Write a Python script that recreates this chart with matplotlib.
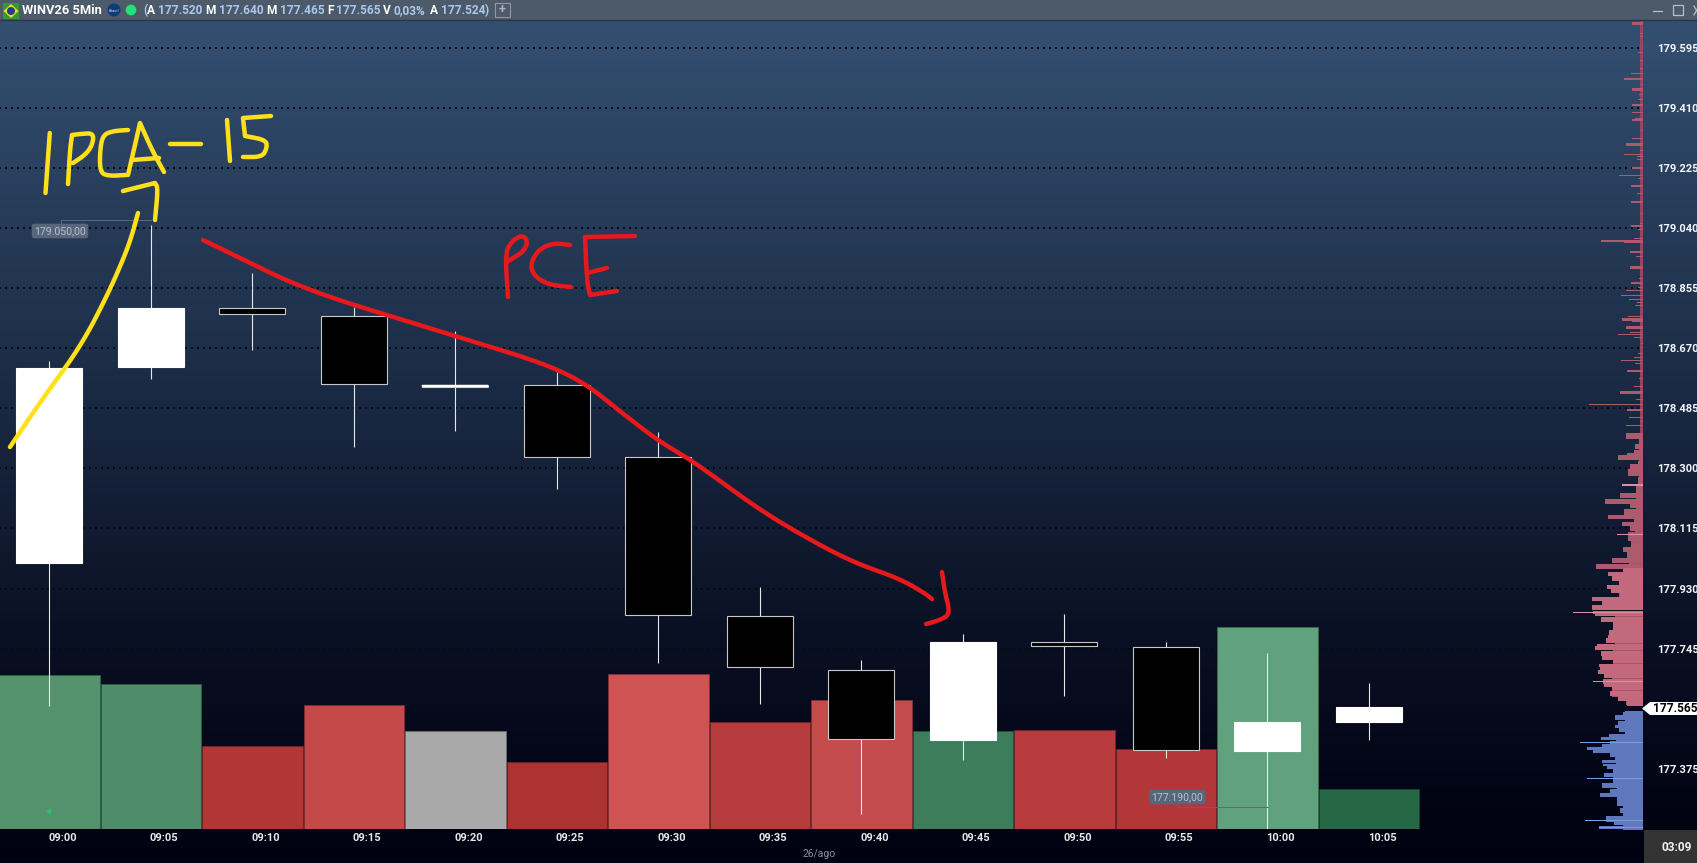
import numpy as np
import matplotlib
matplotlib.use("Agg")
import matplotlib.pyplot as plt
from matplotlib.patches import Rectangle, Polygon, Circle

W, H = 1697, 863

# ---------- data ----------
times = ["09:00","09:05","09:10","09:15","09:20","09:25","09:30","09:35","09:40","09:45","09:50","09:55","10:00","10:05"]
opens  = [178010,178612,178792,178769,178555,178557,178335,177846,177680,177464,177766,177750,177430,177520]
closes = [178610,178795,178775,178560,178550,178335,177849,177689,177467,177766,177753,177433,177519,177565]
highs  = [178630,179050,178902,178797,178723,178597,178412,177935,177710,177790,177852,177766,177732,177640]
lows   = [177570,178575,178665,178366,178415,178237,177700,177575,177236,177403,177600,177409,177190,177465]
volumes = [154,145,83,124,98,67,155,107,129,98,99,80,202,40]
vol_colors = ["#54926e","#4e8c6a","#b23636","#c44a4a","#a9a9a9","#ad3232","#cf5353",
              "#b63b3d","#c44b4b","#3d7d5b","#b83c3e","#b33638","#60a27e","#266745"]
price_ticks = [179595,179410,179225,179040,178855,178670,178485,178300,178115,177930,177745,177560,177375]
price_labels = ["179.595","179.410","179.225","179.040","178.855","178.670","178.485","178.300","178.115","177.930","177.745","","177.375"]

upper_prices = [179673,179642,179632,179618,179601,179584,179569,179558,179535,179519,179502,179483,179470,179453,179439,179422,179399,179381,179374,179343,179319,179301,179281,179270,179263,179253,179227,179204,179196,179171,179148,179123,179101,179088,179070,179058,179050,179037,179021,179010,179002,178998,178970,178954,178922,178901,178888,178875,178861,178851,178835,178822,178814,178803,178770,178762,178755,178737,178722,178715,178707,178688,178676,178657,178645,178636,178627,178602,178580,178555,178537,178516,178500,178483,178460,178447,178435]
upper_sizes  = [33,8,8,35,4,14,34,8,9,35,57,6,33,12,14,33,33,25,33,6,33,51,8,56,18,17,33,72,15,36,18,36,57,5,42,10,36,14,48,27,126,57,39,22,39,99,12,36,15,51,66,42,18,24,45,63,33,51,39,75,27,5,5,15,27,66,24,48,12,27,69,21,162,48,42,10,51]
upper_thick  = [8,3,3,2,3,3,2,3,3,2,7,3,8,3,3,8,2,3,6,3,2,9,3,2,3,3,8,5,3,7,3,5,2,3,2,3,6,3,2,3,7,3,7,3,8,2,3,6,3,2,5,2,3,3,2,8,4,8,4,5,3,3,3,3,3,2,3,7,3,3,8,3,2,6,2,3,6]

lower_prices = [178403,178385,178370,178354,178347,178337,178318,178308,178290,178267,178252,178231,178219,178202,178190,178170,178153,178144,178131,178118,178100,178088,178067,178052,178036,178019,178002,177990,177977,177964,177951,177939,177925,177913,177900,177887,177874,177859,177854,177838,177826,177811,177798,177785,177773,177757,177749,177732,177718,177708,177697,177687,177677,177665,177647,177636,177626,177610,177595,177580]
lower_sizes  = [51,12,24,27,48,75,15,39,45,15,15,21,69,114,39,57,105,27,63,39,45,45,36,60,48,93,141,60,105,93,72,108,96,69,153,123,153,150,144,126,90,90,102,105,111,138,144,126,123,90,132,130,135,117,120,117,93,99,75,48]
core_prices = [178300,178200,178130,178070,178020,177970,177920,177800,177700,177630,177590]
core_sizes  = [12,20,25,36,42,60,72,85,90,92,50]
core_spans  = [200,100,60,50,50,50,70,130,100,60,30]

blue_prices = [177554,177549,177536,177518,177508,177498,177480,177471,177460,177451,177440,177431,177421,177410,177400,177390,177383,177372,177359,177349,177339,177328,177310,177298,177287,177272,177251,177241,177229,177219,177210,177198,177192]
blue_sizes  = [48,60,84,75,84,72,102,126,100,123,168,150,100,84,123,120,108,90,117,90,90,123,99,129,75,78,70,60,111,110,87,132,60]
blue_core_prices = [177520,177430,177330,177240]
blue_core_sizes  = [55,80,78,60]
blue_core_spans  = [70,110,100,100]

red_spike_prices = [178252,178100,177859,177647]
red_spike_sizes  = [63,78,210,150]
blue_spike_prices = [177460,177349,177219,177198]
blue_spike_sizes  = [189,168,174,132]

# hand-drawn annotation strokes, in image pixels
yellow_strokes = [
    [(49.8,133),(47.5,165),(45.5,193)],
    [(68,184),(70,150),(72,135),(72,135),(80,134),(94,133),(92,146),(85,155),(73,163)],
    [(128,130),(113,131),(103,135),(100,150),(100,172),(108,176),(126,175)],
    [(128,175),(135,145),(140,123),(140,123),(152,150),(164,172)],
    [(132,160),(159,158)],
    [(170,144),(201,144)],
    [(227,120),(230,161)],
    [(271,116),(243,118),(243,118),(245,136),(245,136),(266,140),(267,148),(262,157),(243,157)],
    [(123,191),(155,183),(155,183),(158,188),(155,220)],
    [(138,213),(132,235),(125,255),(108,294),(81,346),(43,398),(10,447)],
]
red_strokes = [
    [(203,240),(244,260),(287,281),(335,299),(390,316),(455,336),(530,359),(563,372),(590,387),(622,413),(660,442),(693,461),(758,509),(812,541),(855,563),(898,578),(923,592),(932,599)],
    [(942,572),(945,593),(949,608),(948,616),(937,621),(926,624)],
    [(508,297),(505,252),(513,240),(523,235),(528,242),(523,252),(513,258),(507,262)],
    [(570,245),(553,243),(538,250),(530,265),(535,277),(550,285),(571,287)],
    [(635,236),(585,237)],
    [(585,237),(587,282),(590,295),(590,295),(617,291)],
    [(587,273),(607,268)],
]
header_parts = [("(",143,"#a9c8ee"),("A",147,"white"),("177.520",158,"#a9c8ee"),("M",205,"white"),("177.640",219,"#a9c8ee"),
                ("M",266,"white"),("177.465",280,"#a9c8ee"),("F",327,"white"),("177.565",336,"#a9c8ee"),("V",383,"white"),
                ("0,03%",393,"#a9c8ee"),("A",430,"white"),("177.524",441,"#a9c8ee"),(")",485,"#a9c8ee")]

# ---------- layout ----------
FONT = "Roboto"
plt.rcParams["font.family"] = [FONT, "DejaVu Sans"]
fig = plt.figure(figsize=(W/100, H/100), dpi=100)

def rect_px(x0, y0, x1, y1):
    return [x0/W, 1-y1/H, (x1-x0)/W, (y1-y0)/H]

# gradient background
bg = fig.add_axes([0,0,1,1], zorder=0); bg.axis("off")
stops_y = [0, 20, 430, 620, 830, 863]
stops_c = np.array([(52,80,113),(52,80,113),(24,38,63),(10,17,36),(1,2,18),(0,0,16)])/255
yy = np.arange(H)
grad = np.stack([np.interp(yy, stops_y, stops_c[:,k]) for k in range(3)], axis=1)[:,None,:]
bg.imshow(grad, aspect="auto", extent=(0,W,H,0))
bg.set_xlim(0,W); bg.set_ylim(H,0)

plot_rect = rect_px(-1,19,1642,829)
xlim = (-0.4966, 15.69)
ylim = (177190, 179683)

# grid + axis labels
axg = fig.add_axes(plot_rect, zorder=1, facecolor="none")
axg.set_xlim(xlim); axg.set_ylim(ylim)
for p in price_ticks:
    axg.axhline(p, color="#060a14", lw=1.44, linestyle=(0,(1,2)), xmax=0.9985)
for s in axg.spines.values(): s.set_visible(False)
axg.yaxis.tick_right()
axg.set_yticks(price_ticks, price_labels)
axg.tick_params(axis="y", length=0, pad=10.8, labelsize=8, labelcolor="#f2f6fb")
axg.set_xticks(np.arange(len(times))+13/101.5, times)
axg.tick_params(axis="x", length=0, pad=3.2, labelsize=8, labelcolor="#e8e8e8")
for t in axg.get_xticklabels()+axg.get_yticklabels():
    t.set_fontweight("bold")

# volume histogram
axv = fig.add_axes(plot_rect, zorder=2, facecolor="none")
axv.set_xlim(xlim); axv.set_ylim(0,810); axv.axis("off")
edge = [tuple(0.62*v for v in matplotlib.colors.to_rgb(c)) for c in vol_colors]
axv.bar(np.arange(len(times)), volumes, width=0.99, color=vol_colors, edgecolor=edge, lw=0.7)

# volume profile
axp = fig.add_axes(rect_px(1523,20,1643,830), zorder=2, facecolor="none")
axp.set_xlim(360,0); axp.set_ylim(ylim); axp.axis("off")
axp.barh((179690+178410)/2, 9, height=179690-178410, color="#8f4a5e")
axp.barh(upper_prices, upper_sizes, height=upper_thick, color="#ac5a6d")
axp.barh(core_prices, core_sizes, height=core_spans, color="#a8566a")
lh = np.abs(np.gradient(lower_prices))
axp.barh(lower_prices, lower_sizes, height=lh, color=["#ad5a6e" if p>178000 else "#c2697e" for p in lower_prices])
axp.barh(red_spike_prices, red_spike_sizes, height=4, color="#dd8ea0")
axp.barh(blue_core_prices, blue_core_sizes, height=blue_core_spans, color="#5f78bd")
bh = np.abs(np.gradient(blue_prices))
axp.barh(blue_prices, blue_sizes, height=bh, color="#5f78bd")
axp.barh(blue_spike_prices, blue_spike_sizes, height=3, color="#72a0e4")

# candles
axc = fig.add_axes(plot_rect, zorder=3, facecolor="none")
axc.set_xlim(xlim); axc.set_ylim(ylim); axc.axis("off")
x = np.arange(len(times))
axc.vlines(x, lows, highs, color="#e8e8e8", lw=0.8, zorder=1)
bottoms = np.minimum(opens, closes)
heights = np.abs(np.subtract(closes, opens))
body_col = ["white" if c > o else "black" for o, c in zip(opens, closes)]
body_edge = ["white" if c > o else "#c8c8c8" for o, c in zip(opens, closes)]
axc.bar(x, heights, bottom=bottoms, width=66/101.5, color=body_col, edgecolor=body_edge, lw=0.8, zorder=2)
axc.bar(x[4], 5, bottom=178550, width=66/101.5, color="white", edgecolor="white", lw=0.3, zorder=3)
axc.scatter([0],[177245], marker="*", s=30, color="#1fd070", lw=0, zorder=3)

# overlay in pixels
ov = fig.add_axes([0,0,1,1], zorder=5, facecolor="none")
ov.set_xlim(0,W); ov.set_ylim(H,0); ov.axis("off")

# header
ov.add_patch(Rectangle((0,0),W,20,color="#4d5a6a",lw=0))
ov.plot([0,W],[20.5,20.5],color="#2b3645",lw=1)
ov.add_patch(Rectangle((3,3),16,16,color="#2f9a3c",lw=0))
ov.add_patch(Polygon([(3.5,11),(11,4),(18.5,11),(11,18)],color="#f4d71a",lw=0))
ov.add_patch(Circle((11,11),4,color="#1c3f8f",lw=0))
ov.add_patch(Circle((114,10),6.5,color="#0d3d78",lw=0))
ov.text(114,10.5,"Brasil",color="#c8d8f0",fontsize=3,ha="center",va="center")
ov.add_patch(Circle((131,10),6.5,color="#3b6a5a",lw=0))
ov.add_patch(Circle((131,10),5.3,color="#25e07c",lw=0))
ov.text(22,14.5,"WINV26 5Min",color="white",fontsize=9.3,fontweight="bold",va="baseline")
for txt, px, col in header_parts:
    ov.text(px,14.5,txt,color=col,fontsize=8.6,fontweight="bold",va="baseline")
ov.add_patch(Rectangle((495,3),15,14,fill=False,ec="#8f98a3",lw=0.8))
ov.text(502.5,10,"+",color="#aeb5bd",fontsize=9,fontweight="bold",ha="center",va="center")
ov.plot([1653,1662],[11,11],color="#b8bec6",lw=0.9)
ov.add_patch(Rectangle((1673,5.5),10,10,fill=False,ec="#b8bec6",lw=0.9))
ov.plot([1694,1699],[6,15],color="#b8bec6",lw=0.9)
ov.plot([1694,1699],[15,6],color="#b8bec6",lw=0.9)

# price / time widgets
ov.add_patch(Rectangle((1644,830),53,33,color="#333333",lw=0))
ov.text(1677,847,"03:09",color="#f0f0f0",fontsize=8.6,fontweight="bold",ha="center",va="center")
ov.add_patch(Polygon([(1642,708.5),(1650,702),(1697,702),(1697,715),(1650,715)],color="white",lw=0))
ov.text(1653,708.7,"177.565",color="black",fontsize=8.6,fontweight="bold",va="center")
ov.text(819.6,854,"26/ago",color="#8a8f99",fontsize=7.5,ha="center",va="center")

# high/low tags
ov.plot([61,61,151],[224,220,220],color="#5c6878",lw=0.7)
ov.text(60,231,"179.050,00",color="#b8c0cc",fontsize=7.6,ha="center",va="center",
        bbox=dict(boxstyle="round,pad=0.22",fc="#58667b",ec="none"))
ov.plot([1177,1177,1268],[804,807,807],color="#5c6878",lw=0.7)
ov.text(1177.5,797,"177.190,00",color="#b8c0cc",fontsize=7.6,ha="center",va="center",
        bbox=dict(boxstyle="round,pad=0.22",fc="#58667b",ec="none"))

# hand-drawn strokes
def smooth(pts, n=3):
    p = np.array(pts, float)
    for _ in range(n):
        q = [p[0]]
        for a, b in zip(p[:-1], p[1:]):
            q += [a*0.75+b*0.25, a*0.25+b*0.75]
        q.append(p[-1])
        p = np.array(q)
    return p
for s in yellow_strokes:
    p = smooth(s)
    ov.plot(p[:,0],p[:,1],color="#ffe01a",lw=3.2,solid_capstyle="round",solid_joinstyle="round")
for s in red_strokes:
    p = smooth(s)
    ov.plot(p[:,0],p[:,1],color="#e8191c",lw=3.2,solid_capstyle="round",solid_joinstyle="round")

fig.savefig("out.png", dpi=100)
